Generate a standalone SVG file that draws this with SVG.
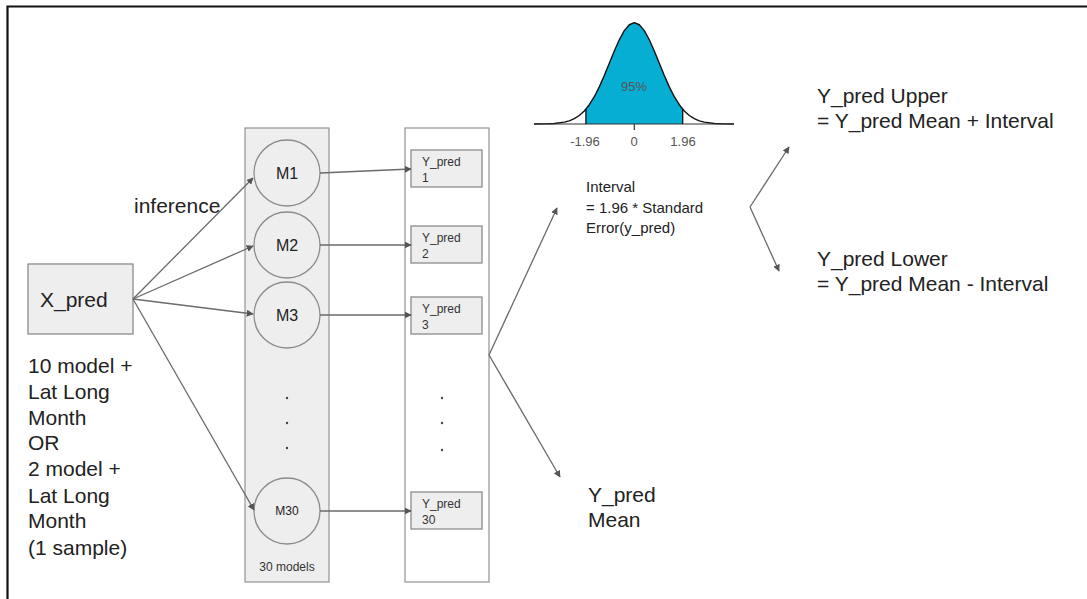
<svg xmlns="http://www.w3.org/2000/svg" width="1087" height="599" viewBox="0 0 1087 599">
  <style>
    text { font-family: "Liberation Sans", Arial, sans-serif; fill: #222; }
    .big { font-size: 21px; }
    .mid { font-size: 15px; }
    .sm { font-size: 12px; fill: #333; }
    .ax { font-size: 13px; fill: #555; }
    .panel { fill: #eeeeee; stroke: #9a9a9a; stroke-width: 1.3; }
    .wpanel { fill: #ffffff; stroke: #9a9a9a; stroke-width: 1.3; }
    .circ { fill: #eeeeee; stroke: #8c8c8c; stroke-width: 1.3; }
    .box { fill: #eeeeee; stroke: #8c8c8c; stroke-width: 1.3; }
    .conn { fill: none; stroke: #6a6a6a; stroke-width: 1.3; marker-end: url(#arr); }
    .line { fill: none; stroke: #6a6a6a; stroke-width: 1.3; }
    .dot { fill: #444; }
  </style>
  <defs>
    <marker id="arr" viewBox="0 0 10 10" refX="9" refY="5" markerWidth="7" markerHeight="7" markerUnits="userSpaceOnUse" orient="auto">
      <path d="M0,0 L10,5 L0,10 Z" fill="#555"/>
    </marker>
  </defs>

  <rect width="1087" height="599" fill="#ffffff"/>
  <!-- frame -->
  <path d="M7.5,599 L7.5,6.5 L1087,6.5" fill="none" stroke="#111" stroke-width="2.2"/>

  <g id="models-panel">
    <rect class="panel" x="245" y="128" width="84" height="454"/>
    <text class="sm" x="287" y="571" text-anchor="middle">30 models</text>
  </g>
  <g id="M1"><circle class="circ" cx="287" cy="173" r="33"/><text x="287" y="179" font-size="16" text-anchor="middle">M1</text></g>
  <g id="M2"><circle class="circ" cx="287" cy="245" r="33"/><text x="287" y="251" font-size="16" text-anchor="middle">M2</text></g>
  <g id="M3"><circle class="circ" cx="287" cy="315" r="33"/><text x="287" y="321" font-size="16" text-anchor="middle">M3</text></g>
  <g id="M-dots">
    <circle class="dot" cx="287" cy="398" r="1.2"/>
    <circle class="dot" cx="287" cy="423" r="1.2"/>
    <circle class="dot" cx="287" cy="448" r="1.2"/>
  </g>
  <g id="M30"><circle class="circ" cx="287" cy="511" r="33"/><text x="287" y="515" font-size="12" text-anchor="middle" fill="#333">M30</text></g>

  <g id="preds-panel">
    <rect class="wpanel" x="405" y="128" width="84" height="454"/>
  </g>
  <g id="Y1"><rect class="box" x="411" y="150" width="71" height="37"/><text class="sm" x="422" y="166">Y_pred</text><text class="sm" x="422" y="182">1</text></g>
  <g id="Y2"><rect class="box" x="411" y="226" width="71" height="37"/><text class="sm" x="422" y="242">Y_pred</text><text class="sm" x="422" y="258">2</text></g>
  <g id="Y3"><rect class="box" x="411" y="297" width="71" height="37"/><text class="sm" x="422" y="313">Y_pred</text><text class="sm" x="422" y="329">3</text></g>
  <g id="Y-dots">
    <circle class="dot" cx="442" cy="398" r="1.2"/>
    <circle class="dot" cx="442" cy="423" r="1.2"/>
    <circle class="dot" cx="442" cy="450" r="1.2"/>
  </g>
  <g id="Y30"><rect class="box" x="411" y="492" width="71" height="37"/><text class="sm" x="422" y="508">Y_pred</text><text class="sm" x="422" y="524">30</text></g>

  <g id="X_pred">
    <rect class="box" x="28" y="264" width="105" height="70"/>
    <text class="big" x="40" y="307">X_pred</text>
  </g>

  <g id="x-desc">
    <text class="big" x="28" y="373">10 model +</text>
    <text class="big" x="28" y="399">Lat Long</text>
    <text class="big" x="28" y="425">Month</text>
    <text class="big" x="28" y="450">OR</text>
    <text class="big" x="28" y="476">2 model +</text>
    <text class="big" x="28" y="503">Lat Long</text>
    <text class="big" x="28" y="528">Month</text>
    <text class="big" x="28" y="555">(1 sample)</text>
  </g>

  <g id="labels">
    <text class="big" x="134" y="213">inference</text>
  </g>

  <g id="bell">
    <path d="M585.9,124 L585.9,109.16 L589.3,104.73 L594.3,96.70 L599.3,86.88 L604.3,75.55 L609.3,63.30 L614.3,51.01 L619.3,39.76 L624.3,30.67 L629.3,24.76 L634.3,22.7 L639.3,24.76 L644.3,30.67 L649.3,39.76 L654.3,51.01 L659.3,63.30 L664.3,75.55 L669.3,86.88 L674.3,96.70 L679.3,104.73 L682.7,109.16 L682.7,124 Z" fill="#07aed3"/>
    <path d="M534,124 L544.3,123.87 L554.3,123.47 L564.3,122.17 L569.3,120.82 L574.3,118.70 L579.3,115.51 L584.3,110.94 L589.3,104.73 L594.3,96.70 L599.3,86.88 L604.3,75.55 L609.3,63.30 L614.3,51.01 L619.3,39.76 L624.3,30.67 L629.3,24.76 L634.3,22.7 L639.3,24.76 L644.3,30.67 L649.3,39.76 L654.3,51.01 L659.3,63.30 L664.3,75.55 L669.3,86.88 L674.3,96.70 L679.3,104.73 L684.3,110.94 L689.3,115.51 L694.3,118.70 L699.3,120.82 L704.3,122.17 L714.3,123.47 L724.3,123.87 L734,124" fill="none" stroke="#111" stroke-width="1.4" stroke-linejoin="round"/>
    <line x1="534" y1="124" x2="734" y2="124" stroke="#333" stroke-width="1.2"/>
    <line x1="585.9" y1="109" x2="585.9" y2="124" stroke="#111" stroke-width="1.3"/>
    <line x1="682.7" y1="109" x2="682.7" y2="124" stroke="#111" stroke-width="1.3"/>
    <line x1="634.3" y1="124" x2="634.3" y2="130" stroke="#333" stroke-width="1.2"/>
    <text class="ax" x="634" y="91" text-anchor="middle" fill="#333">95%</text>
    <text class="ax" x="585" y="146" text-anchor="middle">-1.96</text>
    <text class="ax" x="634" y="146" text-anchor="middle">0</text>
    <text class="ax" x="683" y="146" text-anchor="middle">1.96</text>
  </g>

  <g id="interval">
    <text class="mid" x="586" y="192">Interval</text>
    <text class="mid" x="586" y="213">= 1.96 * Standard</text>
    <text class="mid" x="586" y="233">Error(y_pred)</text>
  </g>

  <g id="mean">
    <text class="big" x="588" y="502">Y_pred</text>
    <text class="big" x="588" y="527">Mean</text>
  </g>

  <g id="upper">
    <text class="big" x="817" y="103">Y_pred Upper</text>
    <text class="big" x="817" y="128">= Y_pred Mean + Interval</text>
  </g>
  <g id="lower">
    <text class="big" x="817" y="266">Y_pred Lower</text>
    <text class="big" x="817" y="291">= Y_pred Mean - Interval</text>
  </g>

  <g id="connectors">
    <line class="conn" x1="133" y1="299" x2="253" y2="178"/>
    <line class="conn" x1="133" y1="299" x2="253" y2="246"/>
    <line class="conn" x1="133" y1="299" x2="253" y2="314"/>
    <line class="conn" x1="133" y1="299" x2="254" y2="510"/>
    <line class="conn" x1="320" y1="173" x2="411" y2="169"/>
    <line class="conn" x1="320" y1="245" x2="411" y2="245"/>
    <line class="conn" x1="320" y1="315" x2="411" y2="315"/>
    <line class="conn" x1="320" y1="511" x2="411" y2="511"/>
    <line class="conn" x1="489" y1="355" x2="557" y2="208"/>
    <line class="conn" x1="489" y1="355" x2="560" y2="477"/>
    <line class="conn" x1="750" y1="207" x2="789" y2="147"/>
    <line class="conn" x1="750" y1="207" x2="779" y2="271"/>
  </g>
</svg>
